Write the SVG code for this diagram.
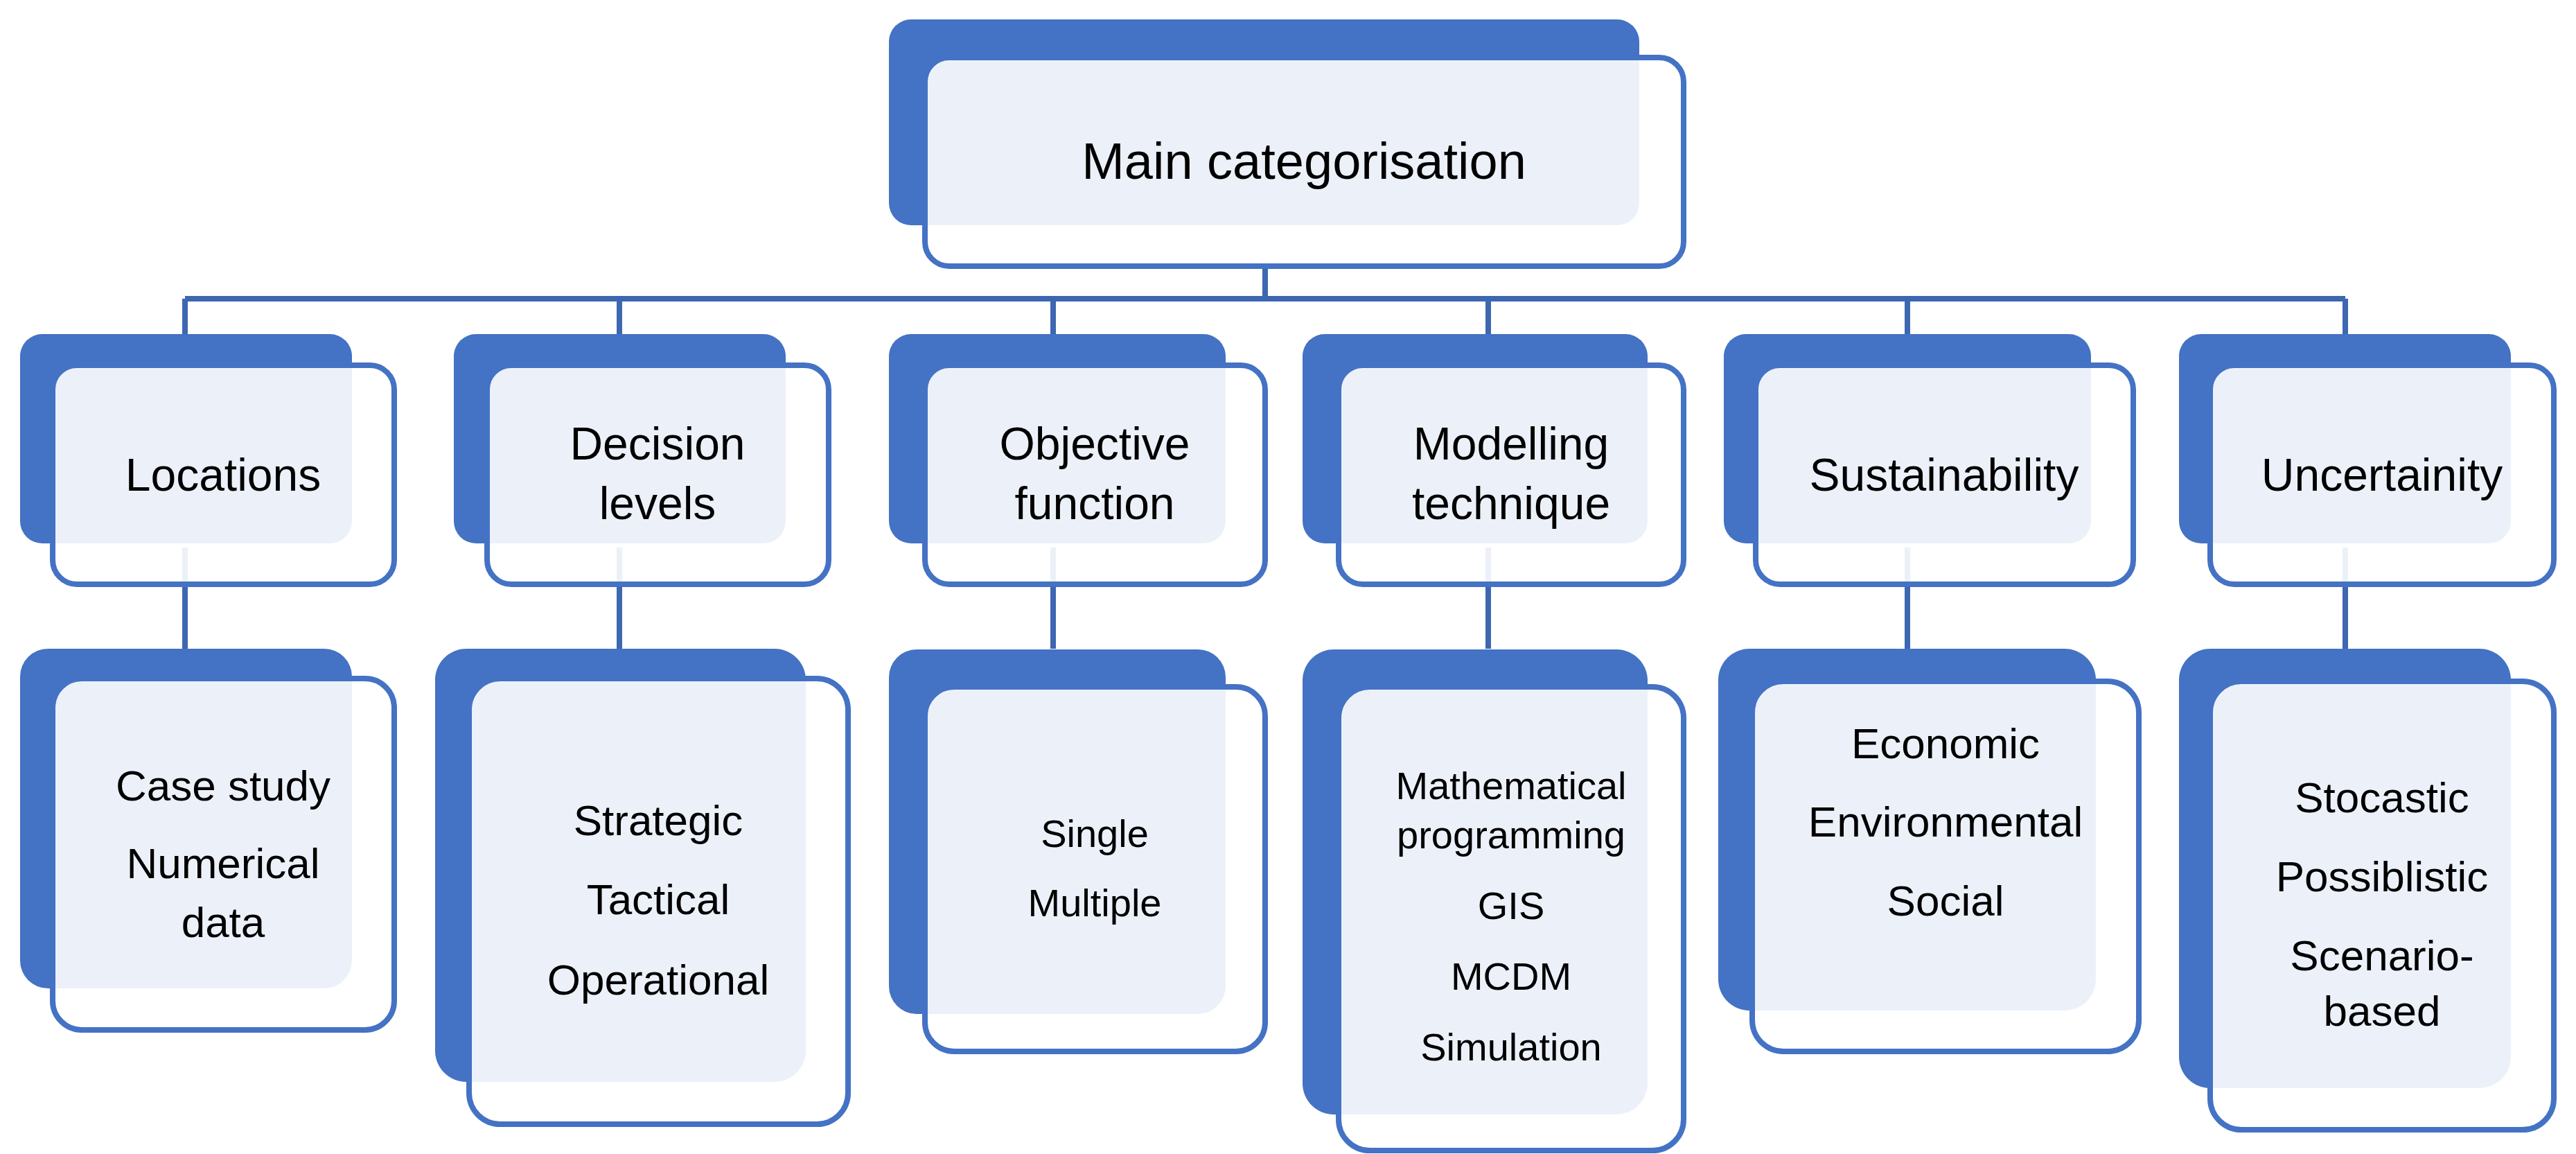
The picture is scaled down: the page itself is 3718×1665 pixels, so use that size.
<svg xmlns="http://www.w3.org/2000/svg" width="3718" height="1665" viewBox="0 0 3718 1665">
<style>
.bk{fill:#4472C4}
.fr{fill:#FFFFFF;fill-opacity:0.9;stroke:#4472C4;stroke-width:8}
.cn{stroke:#3D67B0;stroke-width:8;fill:none}
text{font-family:"Liberation Sans",Arial,sans-serif;fill:#000;text-anchor:middle;dominant-baseline:central}
.t1{font-size:74px}.t2{font-size:66px}.t3{font-size:62px}.t4{font-size:56px}
</style>
<rect width="3718" height="1665" fill="#fff"/>
<g id="connectors" class="cn">
<path d="M1826 384V431M267 431H3385M267 431V482M894 431V482M1520 431V482M2148 431V482M2753 431V482M3385 431V482"/>
<path d="M267 790V936M894 790V936M1520 790V936M2148 790V936M2753 790V936M3385 790V936"/>
</g>
<g id="main"><rect class="bk" x="1283" y="28" width="1083" height="297" rx="32"/><rect class="fr" x="1335" y="83" width="1095" height="301" rx="35"/><text class="t1" x="1882" y="232">Main categorisation</text></g>
<g id="locations"><rect class="bk" x="29" y="482" width="479" height="302" rx="32"/><rect class="fr" x="76" y="527" width="493" height="316" rx="35"/><text class="t2" x="322" y="685">Locations</text></g>
<g id="decision"><rect class="bk" x="655" y="482" width="479" height="302" rx="32"/><rect class="fr" x="703" y="527" width="493" height="316" rx="35"/><text class="t2" x="949" y="640">Decision</text><text class="t2" x="949" y="726">levels</text></g>
<g id="objective"><rect class="bk" x="1283" y="482" width="486" height="302" rx="32"/><rect class="fr" x="1335" y="527" width="491" height="316" rx="35"/><text class="t2" x="1580" y="640">Objective</text><text class="t2" x="1580" y="726">function</text></g>
<g id="modelling"><rect class="bk" x="1880" y="482" width="498" height="302" rx="32"/><rect class="fr" x="1932" y="527" width="498" height="316" rx="35"/><text class="t2" x="2181" y="640">Modelling</text><text class="t2" x="2181" y="726">technique</text></g>
<g id="sustainability"><rect class="bk" x="2488" y="482" width="530" height="302" rx="32"/><rect class="fr" x="2534" y="527" width="545" height="316" rx="35"/><text class="t2" x="2806" y="685">Sustainability</text></g>
<g id="uncertainity"><rect class="bk" x="3145" y="482" width="479" height="302" rx="32"/><rect class="fr" x="3190" y="527" width="496" height="316" rx="35"/><text class="t2" x="3438" y="685">Uncertainity</text></g>
<g id="loc-items"><rect class="bk" x="29" y="936" width="479" height="490" rx="40"/><rect class="fr" x="76" y="979" width="493" height="507" rx="42"/><text class="t3" x="322" y="1133">Case study</text><text class="t3" x="322" y="1245">Numerical</text><text class="t3" x="322" y="1330">data</text></g>
<g id="dec-items"><rect class="bk" x="628" y="936" width="535" height="625" rx="45"/><rect class="fr" x="677" y="979" width="547" height="643" rx="45"/><text class="t3" x="950" y="1183">Strategic</text><text class="t3" x="950" y="1297">Tactical</text><text class="t3" x="950" y="1413">Operational</text></g>
<g id="obj-items"><rect class="bk" x="1283" y="937" width="486" height="526" rx="40"/><rect class="fr" x="1335" y="991" width="491" height="526" rx="42"/><text class="t4" x="1580" y="1202">Single</text><text class="t4" x="1580" y="1302">Multiple</text></g>
<g id="mod-items"><rect class="bk" x="1880" y="937" width="498" height="671" rx="45"/><rect class="fr" x="1932" y="991" width="498" height="669" rx="45"/><text class="t4" x="2181" y="1133">Mathematical</text><text class="t4" x="2181" y="1204">programming</text><text class="t4" x="2181" y="1306">GIS</text><text class="t4" x="2181" y="1408">MCDM</text><text class="t4" x="2181" y="1510">Simulation</text></g>
<g id="sus-items"><rect class="bk" x="2480" y="936" width="545" height="522" rx="45"/><rect class="fr" x="2529" y="983" width="558" height="534" rx="45"/><text class="t3" x="2808" y="1072">Economic</text><text class="t3" x="2808" y="1185">Environmental</text><text class="t3" x="2808" y="1299">Social</text></g>
<g id="unc-items"><rect class="bk" x="3145" y="936" width="479" height="634" rx="45"/><rect class="fr" x="3190" y="983" width="496" height="647" rx="45"/><text class="t3" x="3438" y="1150">Stocastic</text><text class="t3" x="3438" y="1264">Possiblistic</text><text class="t3" x="3438" y="1378">Scenario-</text><text class="t3" x="3438" y="1458">based</text></g>
</svg>
